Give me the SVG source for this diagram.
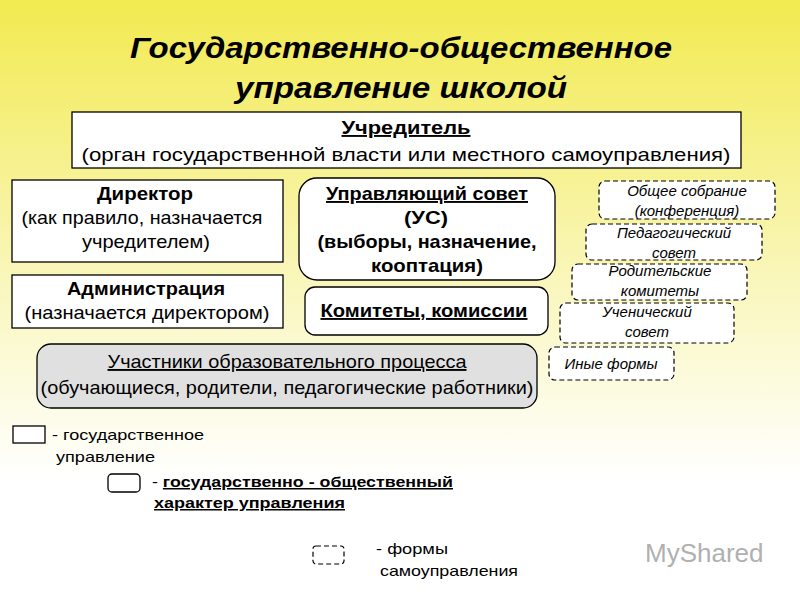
<svg xmlns="http://www.w3.org/2000/svg" width="800" height="600" viewBox="0 0 800 600">
<defs>
<linearGradient id="bg" x1="0" y1="0" x2="0" y2="1">
<stop offset="0" stop-color="#f2ea50"/>
<stop offset="0.45" stop-color="#f9f6b8"/>
<stop offset="0.8" stop-color="#ffffff"/>
</linearGradient>
<style>
text{font-family:"Liberation Sans",Arial,sans-serif;fill:#000}
.t{font-size:30px;font-weight:bold;font-style:italic;text-anchor:middle}
.n{font-size:19px;text-anchor:middle}
.b{font-weight:bold}
.u{text-decoration:underline}
.box{fill:#fff;stroke:#000;stroke-width:1.3}
.d{fill:#fff;stroke:#000;stroke-width:1.2;stroke-dasharray:5,3}
.i{font-size:15px;font-style:italic;text-anchor:middle}
.l{font-size:15px}
</style>
</defs>
<rect width="800" height="600" fill="url(#bg)"/>
<text class="t" x="401" y="58" textLength="542" lengthAdjust="spacingAndGlyphs">Государственно-общественное</text>
<text class="t" x="401" y="98" textLength="332" lengthAdjust="spacingAndGlyphs">управление школой</text>
<g id="founder"><rect class="box" x="72" y="112" width="669" height="56"/>
<text class="n b u" x="406" y="134" textLength="129" lengthAdjust="spacingAndGlyphs">Учредитель</text>
<text class="n" x="406" y="161" textLength="649" lengthAdjust="spacingAndGlyphs">(орган государственной власти или местного самоуправления)</text></g>
<g id="director"><rect class="box" x="12" y="180" width="271" height="82"/>
<text class="n b" x="145" y="200" textLength="96" lengthAdjust="spacingAndGlyphs">Директор</text>
<text class="n" x="142" y="224" textLength="241" lengthAdjust="spacingAndGlyphs">(как правило, назначается</text>
<text class="n" x="146" y="248" textLength="128" lengthAdjust="spacingAndGlyphs">учредителем)</text></g>
<g id="council"><rect class="box" x="299" y="178" width="256" height="102" rx="18"/>
<text class="n b u" x="427" y="200" textLength="202" lengthAdjust="spacingAndGlyphs">Управляющий совет</text>
<text class="n b" x="426" y="224" textLength="44" lengthAdjust="spacingAndGlyphs">(УС)</text>
<text class="n b" x="427" y="248" textLength="219" lengthAdjust="spacingAndGlyphs">(выборы, назначение,</text>
<text class="n b" x="427" y="272" textLength="112" lengthAdjust="spacingAndGlyphs">кооптация)</text></g>
<g id="admin"><rect class="box" x="12" y="275" width="271" height="53"/>
<text class="n b" x="146" y="295" textLength="158" lengthAdjust="spacingAndGlyphs">Администрация</text>
<text class="n" x="147" y="319" textLength="245" lengthAdjust="spacingAndGlyphs">(назначается директором)</text></g>
<g id="committees"><rect class="box" x="305" y="287" width="243" height="48" rx="10"/>
<text class="n b u" x="424" y="317" textLength="207" lengthAdjust="spacingAndGlyphs">Комитеты, комиссии</text></g>
<g id="participants"><rect x="37" y="344" width="500" height="64" rx="14" fill="#e0e0e0" stroke="#000" stroke-width="1.3"/>
<text class="n u" x="287" y="368" textLength="359" lengthAdjust="spacingAndGlyphs">Участники образовательного процесса</text>
<text class="n" x="287" y="394" textLength="493" lengthAdjust="spacingAndGlyphs">(обучающиеся, родители, педагогические работники)</text></g>
<g id="f1"><rect class="d" x="599" y="181" width="176" height="38" rx="6"/>
<text class="i" x="687" y="196">Общее собрание</text><text class="i" x="687" y="216">(конференция)</text></g>
<g id="f2"><rect class="d" x="586" y="224" width="176" height="36" rx="6"/>
<text class="i" x="674" y="238">Педагогический</text><text class="i" x="674" y="258">совет</text></g>
<g id="f3"><rect class="d" x="572" y="264" width="175" height="36" rx="6"/>
<text class="i" x="660" y="276">Родительские</text><text class="i" x="660" y="296">комитеты</text></g>
<g id="f4"><rect class="d" x="560" y="303" width="174" height="40" rx="6"/>
<text class="i" x="647" y="317">Ученический</text><text class="i" x="647" y="337">совет</text></g>
<g id="f5"><rect class="d" x="549" y="347" width="125" height="33" rx="6"/>
<text class="i" x="611" y="369">Иные формы</text></g>
<g id="legend">
<rect class="box" x="13" y="426" width="32" height="17"/>
<text class="l" x="52" y="440" textLength="152" lengthAdjust="spacingAndGlyphs">- государственное</text>
<text class="l" x="56" y="462" textLength="99" lengthAdjust="spacingAndGlyphs">управление</text>
<rect class="box" x="108" y="474" width="32" height="18" rx="4"/>
<text class="l" x="152" y="487" textLength="301" lengthAdjust="spacingAndGlyphs">- <tspan class="b u">государственно - общественный</tspan></text>
<text class="l b u" x="154" y="508" textLength="191" lengthAdjust="spacingAndGlyphs">характер управления</text>
<rect class="d" x="313" y="546" width="31" height="18" rx="3"/>
<text class="l" x="376" y="554" textLength="72" lengthAdjust="spacingAndGlyphs">- формы</text>
<text class="l" x="380" y="576" textLength="138" lengthAdjust="spacingAndGlyphs">самоуправления</text>
</g>
<text x="645" y="562" font-family="Liberation Sans,Arial,sans-serif" font-size="26" style="fill:#b0b0b0">MyShared</text>
</svg>
